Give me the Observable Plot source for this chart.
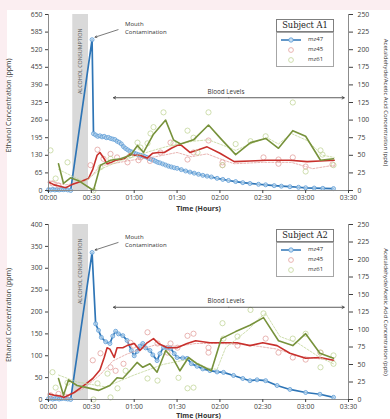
<!DOCTYPE html>
<html>
<head>
<meta charset="utf-8">
<script src="https://cdn.jsdelivr.net/npm/d3@7"></script>
<script src="https://cdn.jsdelivr.net/npm/@observablehq/plot@0.6"></script>
<style>
  html, body { margin: 0; padding: 0; }
  body { width: 390px; height: 419px; background: #fbeef1; position: relative; overflow: hidden; font-family: "Open Sans", sans-serif; }
  #paper { position: absolute; left: 7px; top: 10px; right: 0; bottom: 0; background: #fff; }
  .panel { position: absolute; left: 0; width: 390px; }
  .ttl { position: absolute; left: 276px; width: 56px; height: 11px; border: 0.8px solid #7f7f7f; background: #fff;
         font-family: "DejaVu Serif", serif; font-size: 8.3px; line-height: 11px; text-align: center; color: #222; }
  .box { position: absolute; left: 276px; width: 56px; height: 33px; border: 0.8px solid #a6a6a6; background: #fff; }
  .row { position: absolute; left: 0; width: 56px; height: 8px; }
  .row svg { position: absolute; left: 3px; top: 0; }
  .row span { position: absolute; left: 31px; top: -1px; font-size: 6px; line-height: 9px; color: #333; }
</style>
</head>
<body>
<div id="paper"></div>
<div id="p1" class="panel" style="top:0px"></div>
<div id="p2" class="panel" style="top:210px"></div>
<script>
// ---------- data (time in minutes, mz47 in ppm, mz45 / mz61 in ppb) ----------
const consumption = [17, 28];      // alcohol consumption window (min)
const bloodWindow = [45.5, 207];   // "Blood Levels" span (min)
const xTicks = d3.range(0, 211, 30);
const rightTicks = d3.range(0, 251, 25);
const A1_leftTicks = d3.range(0, 651, 65);
const A2_leftTicks = d3.range(0, 401, 50);
const seriesNames = ["mz47", "mz45", "mz61"];

// Subject A1
const A1_mz47 = [[0,3],[1.5,2],[3,4],[4.5,2],[6,3],[7.5,2],[9,4],[10.5,3],[12,5],[13.5,2],[15.5,0],[30.5,557],[31.5,210],[33,205],[34.5,200],[36,202],[37.5,198],[39,200],[40.5,195],[42,196],[43.5,192],[45,190],[46.5,188],[48,182],[49.5,178],[51,172],[52.5,162],[54,155],[55.5,150],[57,145],[58.5,142],[60,138],[61.5,135],[63,132],[64.5,130],[66,128],[67.5,125],[69,122],[70.5,118],[72,115],[73.5,112],[75,108],[76.5,104],[78,102],[80,98],[82,94],[84,90],[86,87],[88,84],[90,82],[93,77],[96,72],[99,68],[102,64],[105,60],[108,56],[111,53],[114,50],[118,45],[122,41],[126,37],[131,33],[136,29],[141,26],[147,23],[152,21],[158,18],[163,16],[169,14],[175,12],[180,10],[186,9],[192,8],[199.5,7]];
const A1_mz45 = [[0,12],[4,8],[8,6],[12,4],[16,8],[20,11],[24,14],[28,17],[31,30],[34,50],[36,54],[39,45],[41,38],[44,40],[47,43],[50,44],[53,45],[57,52],[60,50],[64,50],[69,46],[73,53],[77,54],[81,54],[86,60],[92,66],[99,54],[105,58],[111,62],[120,53],[130,41],[141,42],[153,43],[169,43],[181,41],[190,42],[200,43]];
const A1_mz45_trend = [[0,14],[12,8],[24,12],[30,20],[36,35],[45,38],[55,42],[65,45],[75,48],[90,54],[100,48],[111,52],[120,45],[130,38],[150,40],[170,40],[185,31],[200,36]];
const A1_mz45_raw = [[2.8,10],[7,7],[29.4,36],[34.3,58],[38.5,45],[43.4,52],[48,47],[55.3,40],[63,43],[64.4,47],[71,42],[78.4,54],[85.4,68],[97.3,44],[101.5,54],[112,71],[121.8,40],[121.8,36],[150.5,47],[161,44],[161,38],[171,47],[180,34],[198.8,37]];
const A1_mz61 = [[7,38],[10.5,10],[15.4,18],[21,14],[31.5,0],[36.4,36],[43.4,43],[50.4,45],[57.4,50],[62.3,64],[66.5,54],[73.5,80],[82,100],[87.5,72],[92.4,66],[101.5,72],[112,93],[120.4,74],[131,51],[141.4,68],[152,74],[161,60],[171,85],[180,77],[190.4,43],[199.5,45]];
const A1_mz61_trend = [[7,30],[15,22],[25,12],[36,30],[50,42],[60,48],[70,55],[82,62],[92,66],[101,70],[112,72],[125,62],[131,57],[141,66],[153,75],[161,66],[170,81],[181,71],[192,50],[200,47]];
const A1_mz61_raw = [[1.4,57],[5,17],[13.3,40],[31.5,0],[36.4,33],[43.4,45],[57.4,50],[62.3,68],[64.4,61],[69.3,67],[71.4,81],[73.5,90],[80.5,111],[87.5,67],[97.3,85],[101.5,75],[104.3,54],[112,111],[121.8,36],[131,66],[141.4,70],[152,77],[171,125],[180,27],[190.4,57],[191.8,51],[199.5,36]];

// Subject A2
const A2_mz47 = [[0,2],[1.5,3],[3,1],[4.5,2],[6,3],[7.5,1],[9,2],[10.5,3],[12,2],[13.5,1],[15.5,0],[30.5,336],[33,173],[35,158],[37,142],[40,132],[43,128],[45,145],[47,156],[49,150],[52,146],[55,135],[58,112],[60,100],[62,110],[64,122],[66,128],[68,118],[71,112],[73,102],[76,89],[78,105],[80.5,119],[83,118],[85.5,117],[88,105],[90,96],[94,95],[97,94],[100,82],[104,76],[108,70],[113,66],[118,63],[122.5,62],[129.5,55],[136,48],[141,43],[146,45],[152,43],[160,32],[169,23],[180,16],[190,12],[199.5,5]];
const A2_mz45 = [[0,8],[4,6],[8,5],[11,3],[14,6],[18,10],[22,16],[26,22],[31,30],[36,42],[39,60],[41,74],[43,72],[46,60],[48,74],[52,74],[55,77],[60,80],[64,70],[69,81],[73.5,87],[77,80],[83,74],[90,74],[97,80],[103,84],[113,81],[122,81],[132,81],[141,77],[150,81],[160,77],[169,66],[180,59],[190,60],[199.5,56]];
const A2_mz45_trend = [[0,8],[12,5],[24,15],[36,35],[45,55],[55,65],[65,72],[75,78],[90,76],[103,80],[120,80],[140,78],[160,72],[175,62],[190,58],[200,56]];
const A2_mz45_raw = [[1.4,6],[7,8],[12,4],[31,56],[36.4,66],[43.4,46],[47,41],[52.5,51],[57.4,81],[59.5,77],[69.3,96],[76.3,80],[83.3,67],[85.4,80],[90.3,74],[97.3,91],[101.5,94],[112,74],[112,67],[132.3,77],[152,87],[161,67],[171,60],[180,57],[190.4,67]];
const A2_mz61 = [[7,30],[10.5,6],[14,28],[20,20],[27,17],[35,13],[43,20],[48,31],[52,30],[57,41],[62,53],[66,46],[71,51],[76,39],[82,70],[87,59],[92,41],[98,60],[104,51],[114,41],[121,87],[131,97],[141,106],[150.5,117],[161,84],[171,77],[180,94],[190,66],[199.5,59]];
const A2_mz61_trend = [[7,35],[20,25],[40,18],[60,35],[80,50],[99,58],[111,45],[118,43],[124,74],[140,100],[148,117],[152,123],[162,90],[175,80],[190,60],[199.5,51]];
const A2_mz61_raw = [[2.8,39],[5,17],[13.3,24],[31.5,0],[34.3,23],[41.3,37],[43.4,3],[48.3,16],[54,41],[69.3,30],[76.3,27],[91,31],[97.3,16],[101.5,17],[121.8,109],[122.5,87],[132.3,90],[141.4,128],[150.5,123],[171,87],[180,94],[190.4,67],[190.4,46],[199.5,63],[199.5,51]];

// ---------- styling ----------
const W = 390, ML = 48, MR = 42, MT = 14;
const C = {
  blue: "#2e75b6", blueMk: "#5b9bd5", blueFill: "#c9dff2",
  red: "#c8302c", redLight: "#e3a2a0",
  green: "#77923b", greenLight: "#c3d69b",
  axis: "#8c8c8c", text: "#404040"
};
const fmtTime = m => String(Math.floor(m / 60)).padStart(2, "0") + ":" + String(m % 60).padStart(2, "0");

function makePanel(c) {
  const k = c.yMax / 250;            // ppb (right axis) -> left axis units
  const pv = c.yMax / c.plotH;       // data units per pixel (vertical)
  const pt = 210 / (W - ML - MR);    // minutes per pixel
  const peak = c.blue.reduce((a, b) => (b[1] > a[1] ? b : a));
  const yBlood = c.yMax * 0.527;
  const midT = (bloodWindow[0] + bloodWindow[1]) / 2;
  const R = d => d[1] * k;
  return Plot.plot({
    width: W, height: c.height,
    marginLeft: ML, marginRight: MR, marginTop: MT, marginBottom: c.height - MT - c.plotH,
    style: {background: "transparent", fontFamily: "'Open Sans', sans-serif", fontSize: "6.8px", color: C.text, overflow: "visible"},
    x: {domain: [0, 210]},
    y: {domain: [0, c.yMax]},
    marks: [
      Plot.rect([consumption], {x1: d => d[0], x2: d => d[1], fill: "#d9d9d9"}),
      Plot.text([consumption], {x: d => (d[0] + d[1]) / 2, y: () => c.yMax, text: () => "ALCOHOL CONSUMPTION",
        rotate: -90, textAnchor: "end", dy: 14, fontSize: 5.4, fill: "#595959"}),
      // mz47 (ethanol, left axis)
      Plot.line(c.blue, {x: d => d[0], y: d => d[1], stroke: C.blue, strokeWidth: 1.7}),
      Plot.dot(c.blue, {x: d => d[0], y: d => d[1], r: 2, stroke: C.blueMk, fill: C.blueFill, fillOpacity: 0.7, strokeWidth: 0.8}),
      // mz45 (right axis)
      Plot.dot(c.redRaw, {x: d => d[0], y: R, r: 2.6, stroke: C.redLight, strokeWidth: 0.8, fill: "none"}),
      Plot.line(c.redTrend, {x: d => d[0], y: R, stroke: C.redLight, strokeWidth: 0.8, strokeDasharray: "2,1.5"}),
      Plot.line(c.red, {x: d => d[0], y: R, stroke: C.red, strokeWidth: 1.6}),
      // mz61 (right axis)
      Plot.dot(c.greenRaw, {x: d => d[0], y: R, r: 2.6, stroke: C.greenLight, strokeWidth: 0.8, fill: "none"}),
      Plot.line(c.greenTrend, {x: d => d[0], y: R, stroke: C.greenLight, strokeWidth: 0.8, strokeDasharray: "2,1.5"}),
      Plot.line(c.green, {x: d => d[0], y: R, stroke: C.green, strokeWidth: 1.6}),
      // axes
      Plot.ruleY([0], {stroke: C.axis}),
      Plot.ruleX([0], {stroke: C.axis}),
      Plot.ruleX([210], {stroke: C.axis}),
      Plot.axisX({ticks: xTicks, tickFormat: fmtTime, tickSize: 3, tickPadding: 2, label: null}),
      Plot.axisY({ticks: c.leftTicks, tickSize: 3, tickPadding: 3, label: null}),
      Plot.axisY({anchor: "right", ticks: rightTicks.map(v => v * k), tickFormat: v => String(Math.round(v / k)),
        tickSize: 4, tickPadding: 5, label: null}),
      Plot.text(["Ethanol Concentration (ppm)"], {text: d => d, frameAnchor: "left", textAnchor: "middle", lineAnchor: "middle",
        rotate: -90, dx: -40, dy: 3, fontSize: 7, fill: "#333"}),
      Plot.text(["Acetaldehyde/Acetic Acid Concentration (ppb)"], {text: d => d, frameAnchor: "right", textAnchor: "middle", lineAnchor: "middle",
        rotate: 90, dx: 37, dy: 0, fontSize: 6, fill: "#333"}),
      Plot.text(["Time (Hours)"], {text: d => d, frameAnchor: "bottom", lineAnchor: "middle", dy: c.timeDy, fontSize: 7, fontWeight: "bold", fill: "#333"}),
      // annotations
      Plot.arrow([peak], {x1: d => d[0] + 26 * pt, y1: d => d[1] + 10 * pv, x2: d => d[0] + 3 * pt, y2: d => d[1] + 2.5 * pv,
        stroke: "#404040", strokeWidth: 0.7, headLength: 4}),
      Plot.text([peak], {x: d => d[0], y: d => d[1], text: () => "Mouth\nContamination", dx: 33, dy: -12,
        textAnchor: "start", lineHeight: 1.3, fontSize: 6, fill: "#333"}),
      Plot.arrow([bloodWindow], {x1: () => midT, x2: d => d[0], y1: () => yBlood, y2: () => yBlood, stroke: "#333", strokeWidth: 0.8, headLength: 4.5}),
      Plot.arrow([bloodWindow], {x1: () => midT, x2: d => d[1], y1: () => yBlood, y2: () => yBlood, stroke: "#333", strokeWidth: 0.8, headLength: 4.5}),
      Plot.text([bloodWindow], {x: () => midT - 2, y: () => yBlood, text: () => "Blood Levels", dy: -6, fontSize: 6.3, fill: "#333"})
    ]
  });
}

function legendHTML(top, subject) {
  const sym = [
    `<svg width="22" height="8"><line x1="1" y1="4" x2="21" y2="4" stroke="${C.blue}" stroke-width="1.5"/><circle cx="11" cy="4" r="2.2" stroke="${C.blueMk}" fill="${C.blueFill}" stroke-width="0.8"/></svg>`,
    `<svg width="22" height="8"><circle cx="11" cy="4" r="2.4" stroke="${C.redLight}" fill="none" stroke-width="0.8"/></svg>`,
    `<svg width="22" height="8"><circle cx="11" cy="4" r="2.4" stroke="${C.greenLight}" fill="none" stroke-width="0.8"/></svg>`
  ];
  const rows = seriesNames.map((n, i) => `<div class="row" style="top:${3 + i * 10}px">${sym[i]}<span>${n}</span></div>`).join("");
  return `<div class="ttl" style="top:${top}px">${subject}</div><div class="box" style="top:${top + 13}px">${rows}</div>`;
}

const p1 = makePanel({height: 210, plotH: 176, yMax: 650, leftTicks: A1_leftTicks, timeDy: 18,
  blue: A1_mz47, red: A1_mz45, redTrend: A1_mz45_trend, redRaw: A1_mz45_raw,
  green: A1_mz61, greenTrend: A1_mz61_trend, greenRaw: A1_mz61_raw});
const p2 = makePanel({height: 209, plotH: 175, yMax: 400, leftTicks: A2_leftTicks, timeDy: 16,
  blue: A2_mz47, red: A2_mz45, redTrend: A2_mz45_trend, redRaw: A2_mz45_raw,
  green: A2_mz61, greenTrend: A2_mz61_trend, greenRaw: A2_mz61_raw});
document.getElementById("p1").appendChild(p1);
document.getElementById("p2").appendChild(p2);
document.getElementById("p1").insertAdjacentHTML("beforeend", legendHTML(19, "Subject A1"));
document.getElementById("p2").insertAdjacentHTML("beforeend", legendHTML(19, "Subject A2"));
</script>
</body>
</html>
